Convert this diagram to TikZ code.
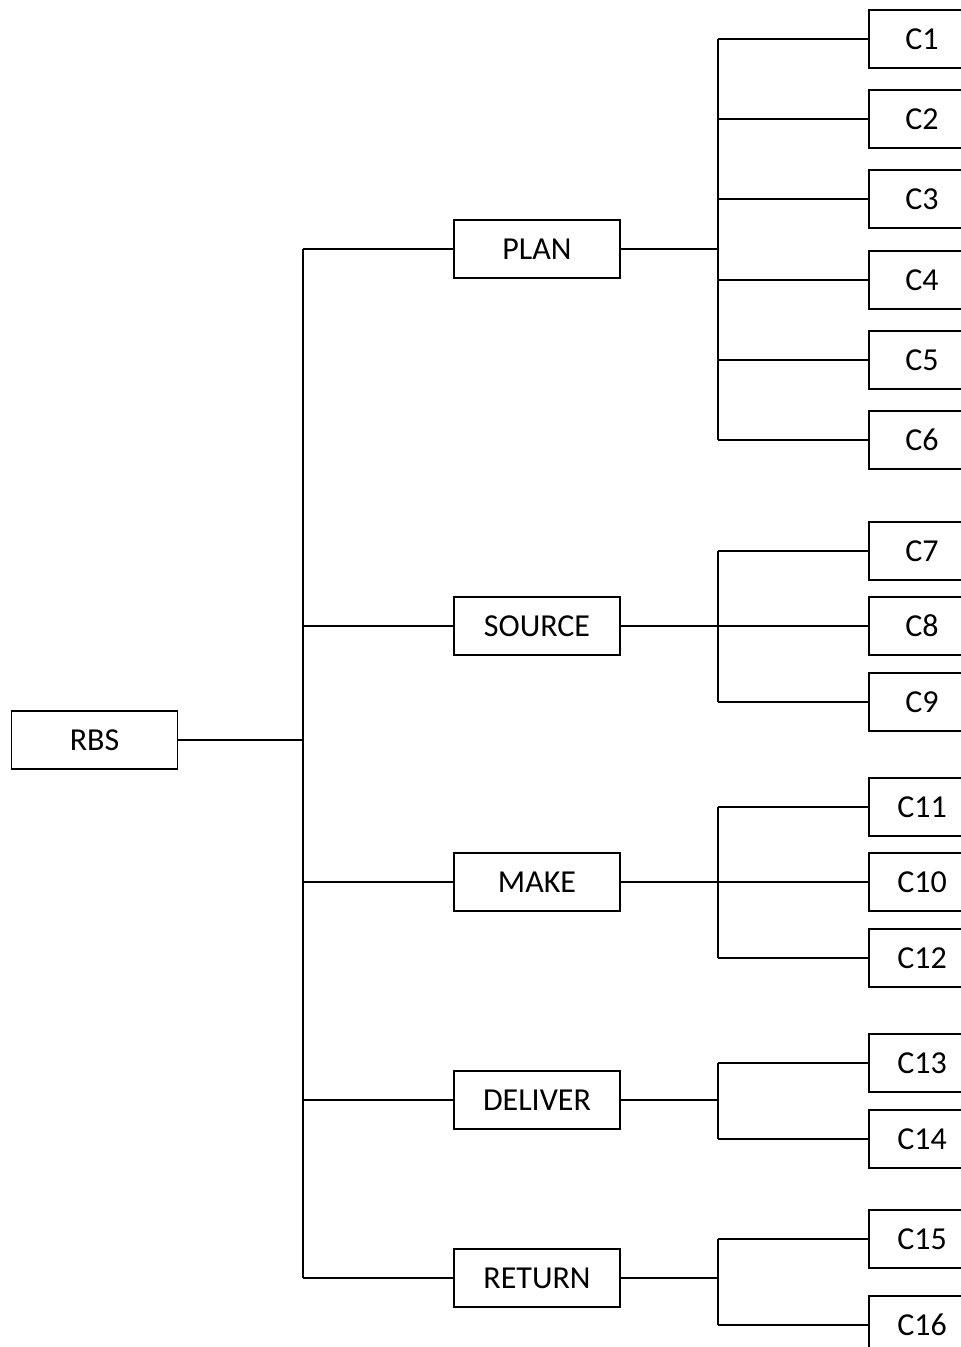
\documentclass[tikz,border=0pt]{standalone}
\usepackage{fontspec}
\setmainfont{Carlito}
\begin{document}
\begin{tikzpicture}[x=1pt,y=-1pt,
  box/.style={draw,line width=1.4pt,rectangle,inner sep=0pt,minimum width=166pt,minimum height=58pt,font=\fontsize{32}{38}\selectfont},
  leaf/.style={box,minimum width=106pt},
  conn/.style={line width=1.4pt}]
\path[use as bounding box] (0,0) rectangle (961,1347);
\clip (0,0) rectangle (961,1347);
% root
\node[box] (RBS) at (94.5,740) {RBS};
% level 2
\node[box] (PLAN) at (537,249) {PLAN};
\node[box] (SOURCE) at (537,626) {SOURCE};
\node[box] (MAKE) at (537,882) {MAKE};
\node[box] (DELIVER) at (537,1100) {DELIVER};
\node[box] (RETURN) at (537,1278) {RETURN};
% level 3
\node[leaf] (C1) at (922,39) {C1};
\node[leaf] (C2) at (922,119) {C2};
\node[leaf] (C3) at (922,199) {C3};
\node[leaf] (C4) at (922,280) {C4};
\node[leaf] (C5) at (922,360) {C5};
\node[leaf] (C6) at (922,440) {C6};
\node[leaf] (C7) at (922,551) {C7};
\node[leaf] (C8) at (922,626) {C8};
\node[leaf] (C9) at (922,702) {C9};
\node[leaf] (C11) at (922,807) {C11};
\node[leaf] (C10) at (922,882) {C10};
\node[leaf] (C12) at (922,958) {C12};
\node[leaf] (C13) at (922,1063) {C13};
\node[leaf] (C14) at (922,1139) {C14};
\node[leaf] (C15) at (922,1239) {C15};
\node[leaf] (C16) at (922,1325) {C16};
% trunk
\coordinate (tx) at (303,0);
\coordinate (bx) at (718,0);
\draw[conn] (PLAN.west -| tx) -- (RETURN.west -| tx);
\draw[conn] (RBS.east) -- (RBS.east -| tx);
\foreach \n in {PLAN,SOURCE,MAKE,DELIVER,RETURN}{
  \draw[conn] (\n.west -| tx) -- (\n.west);
  \draw[conn] (\n.east) -- (\n.east -| bx);
}
% branches
\draw[conn] (C1.west -| bx) -- (C6.west -| bx);
\draw[conn] (C7.west -| bx) -- (C9.west -| bx);
\draw[conn] (C11.west -| bx) -- (C12.west -| bx);
\draw[conn] (C13.west -| bx) -- (C14.west -| bx);
\draw[conn] (C15.west -| bx) -- (C16.west -| bx);
\foreach \n in {C1,C2,C3,C4,C5,C6,C7,C8,C9,C10,C11,C12,C13,C14,C15,C16}{
  \draw[conn] (\n.west -| bx) -- (\n.west);
}
\end{tikzpicture}
\end{document}
